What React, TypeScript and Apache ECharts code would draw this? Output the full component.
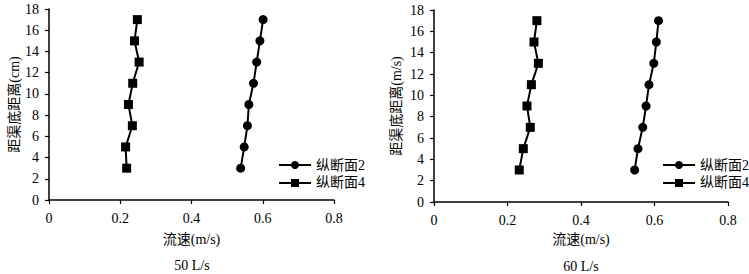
import React, { useEffect, useRef } from "react";
import * as echarts from "echarts";

const heights = [3, 5, 7, 9, 11, 13, 15, 17];
const v50Sec2 = [0.538, 0.548, 0.557, 0.561, 0.574, 0.583, 0.592, 0.601];
const v50Sec4 = [0.218, 0.215, 0.234, 0.223, 0.235, 0.253, 0.24, 0.248];
const v60Sec2 = [0.546, 0.555, 0.568, 0.577, 0.585, 0.598, 0.605, 0.611];
const v60Sec4 = [0.232, 0.243, 0.262, 0.253, 0.265, 0.284, 0.272, 0.28];
const seriesNames = ["纵断面2", "纵断面4"];
const panelTitles = ["50 L/s", "60 L/s"];
const yNames = ["距渠底距离(cm)", "距渠底距离(m/s)"];
const xName = "流速(m/s)";

const FONT = "Times New Roman, Liberation Serif, Noto Sans CJK SC, serif";
const FS = 14;

const pair = (xs: number[]) => xs.map((x, i) => [x, heights[i]]);

export default function App() {
  const ref = useRef<HTMLDivElement>(null);
  useEffect(() => {
    if (!ref.current) return;
    const chart = echarts.init(ref.current, undefined, { renderer: "svg" });
    const axisCommon = {
      axisLine: { lineStyle: { color: "#000", width: 1.5 } },
      axisTick: { show: true, length: 4, lineStyle: { color: "#000", width: 1.2 } },
      splitLine: { show: false },
      axisLabel: { color: "#000", fontFamily: FONT, fontSize: FS },
      nameTextStyle: { color: "#000", fontFamily: FONT, fontSize: FS },
    };
    const xAxis = (gi: number, gap: number) => ({
      ...axisCommon,
      type: "value",
      gridIndex: gi,
      min: 0,
      max: 0.8,
      interval: 0.2,
      name: xName,
      nameLocation: "middle",
      nameGap: gap,
      axisLabel: { ...axisCommon.axisLabel, margin: 11 },
    });
    const yAxis = (gi: number, gap: number) => ({
      ...axisCommon,
      type: "value",
      gridIndex: gi,
      min: 0,
      max: 18,
      interval: 2,
      name: yNames[gi],
      nameLocation: "middle",
      nameGap: gap,
      axisLabel: { ...axisCommon.axisLabel, margin: 10 },
    });
    const lineSeries = (name: string, data: number[], gi: number, symbol: string) => ({
      type: "line",
      name,
      xAxisIndex: gi,
      yAxisIndex: gi,
      data: pair(data),
      symbol,
      symbolSize: 9,
      showSymbol: true,
      lineStyle: { color: "#000", width: 2 },
      itemStyle: { color: "#000" },
    });
    const legend = (left: number) => ({
      left,
      top: 153,
      orient: "vertical",
      itemWidth: 32,
      itemHeight: 10,
      itemGap: 4,
      data: seriesNames,
      textStyle: { color: "#000", fontFamily: FONT, fontSize: FS },
    });
    const subtitle = (text: string, x: number, y: number) => ({
      type: "text",
      x,
      y,
      style: {
        text,
        fill: "#000",
        fontFamily: FONT,
        fontSize: FS,
        align: "center",
        verticalAlign: "middle",
      },
    });
    chart.setOption({
      animation: false,
      backgroundColor: "#fff",
      grid: [
        { left: 49, top: 9, width: 285, height: 191 },
        { left: 434, top: 10, width: 294, height: 192 },
      ],
      xAxis: [xAxis(0, 32), xAxis(1, 30)],
      yAxis: [yAxis(0, 26), yAxis(1, 31)],
      legend: [legend(273), legend(657)],
      series: [
        lineSeries(seriesNames[0], v50Sec2, 0, "circle"),
        lineSeries(seriesNames[1], v50Sec4, 0, "rect"),
        lineSeries(seriesNames[0], v60Sec2, 1, "circle"),
        lineSeries(seriesNames[1], v60Sec4, 1, "rect"),
      ],
      graphic: [subtitle(panelTitles[0], 192, 265), subtitle(panelTitles[1], 581, 266)],
    });
    return () => chart.dispose();
  }, []);
  return (
    <div
      ref={ref}
      style={{ position: "fixed", left: 0, top: 0, width: 749, height: 274 }}
    />
  );
}
